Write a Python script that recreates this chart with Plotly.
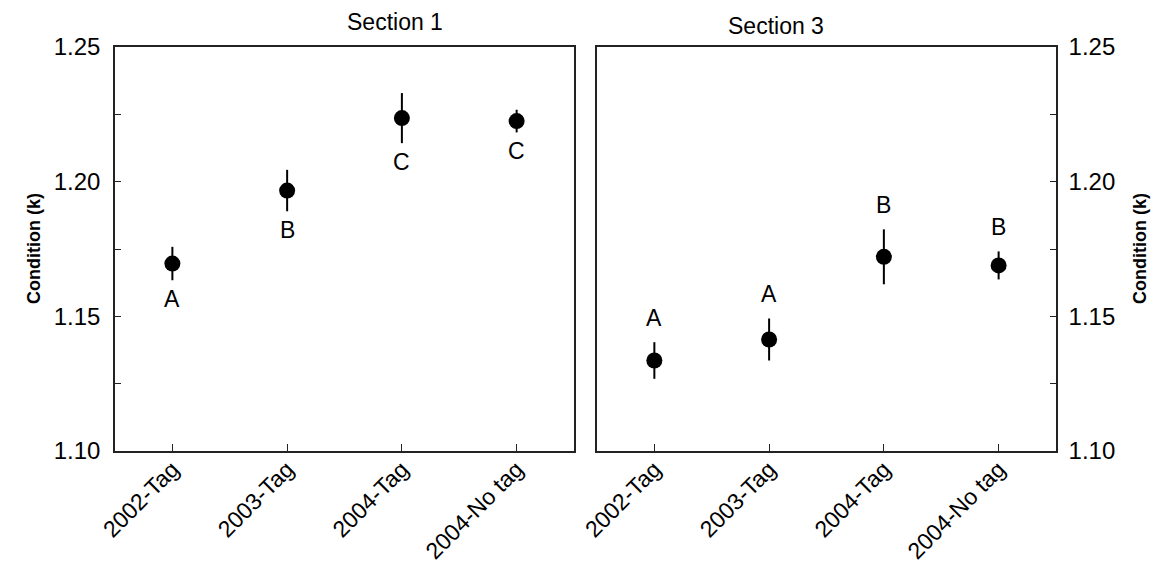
import plotly.graph_objects as go

categories = ["2002-Tag", "2003-Tag", "2004-Tag", "2004-No tag"]
sec1_mean = [1.1696, 1.1967, 1.2236, 1.2225]
sec1_err = [0.0062, 0.0077, 0.0093, 0.0042]
sec1_letters = ["A", "B", "C", "C"]
sec3_mean = [1.1336, 1.1414, 1.1721, 1.1689]
sec3_err = [0.0068, 0.0078, 0.0102, 0.0052]
sec3_letters = ["A", "A", "B", "B"]
y_ticks = [1.10, 1.15, 1.20, 1.25]
y_ticklabels = ["1.10", "1.15", "1.20", "1.25"]

FONT = "Liberation Sans, Arial, sans-serif"
LINE = "#222222"
W, H = 1164, 562
ml, mr, mt, mb = 115, 108, 47, 111
pw = W - ml - mr

fig = go.Figure()
marker = dict(color="black", size=16)
eb = lambda e: dict(type="data", array=e, visible=True, color="black", thickness=2, width=0)

fig.add_trace(go.Scatter(x=categories, y=sec1_mean, mode="markers", marker=marker,
                         error_y=eb(sec1_err), xaxis="x", yaxis="y", showlegend=False))
fig.add_trace(go.Scatter(x=categories, y=sec3_mean, mode="markers", marker=marker,
                         error_y=eb(sec3_err), xaxis="x2", yaxis="y2", showlegend=False))

ann = []
for c, m, e, l in zip(categories, sec1_mean, sec1_err, sec1_letters):
    ann.append(dict(x=c, y=m - e, xref="x", yref="y", text=l, showarrow=False,
                    yanchor="middle", yshift=-19, font=dict(size=23, color="black", family=FONT)))
for c, m, e, l in zip(categories, sec3_mean, sec3_err, sec3_letters):
    ann.append(dict(x=c, y=m + e, xref="x2", yref="y2", text=l, showarrow=False,
                    yanchor="middle", yshift=24, font=dict(size=23, color="black", family=FONT)))

ann.append(dict(x=0.2439, y=1, xref="paper", yref="paper", yanchor="bottom", yshift=10,
                text="Section 1", showarrow=False, font=dict(size=23, color="black", family=FONT)))
ann.append(dict(x=0.7561, y=1, xref="paper", yref="paper", yanchor="bottom", yshift=6,
                text="Section 3", showarrow=False, font=dict(size=23, color="black", family=FONT)))
ann.append(dict(x=(22 - ml) / pw, y=0.5, xref="paper", yref="paper", text="<b>Condition (k)</b>",
                textangle=-90, showarrow=False, font=dict(size=18, color="black", family=FONT)))
ann.append(dict(x=(1152 - ml) / pw, y=0.5, xref="paper", yref="paper", text="<b>Condition (k)</b>",
                textangle=-90, showarrow=False, font=dict(size=18, color="black", family=FONT)))

xax = dict(type="category", range=[-0.5, 3.5], showline=True, linecolor=LINE, linewidth=1.5,
           mirror=True, ticks="inside", ticklen=7, tickwidth=1.2, tickcolor=LINE,
           tickangle=-45, tickfont=dict(size=23, color="black", family=FONT),
           ticklabelstandoff=-6,
           showgrid=False, zeroline=False, automargin=False)
yax = dict(range=[1.10, 1.25], tickvals=y_ticks, ticktext=y_ticklabels, showline=True,
           linecolor=LINE, linewidth=1.5, mirror=True, ticks="inside", ticklen=6, tickwidth=1.2,
           tickcolor=LINE, tickfont=dict(size=24, color="black", family=FONT),
           minor=dict(dtick=0.025, tick0=1.10, ticks="inside", ticklen=6, tickwidth=1.2, tickcolor=LINE),
           showgrid=False, zeroline=False, automargin=False)

fig.update_layout(
    width=W, height=H, margin=dict(l=ml, r=mr, t=mt, b=mb, autoexpand=False),
    paper_bgcolor="white", plot_bgcolor="white",
    xaxis=dict(xax, domain=[0, 0.4878], anchor="y"),
    xaxis2=dict(xax, domain=[0.5122, 1], anchor="y2"),
    yaxis=dict(yax, anchor="x", side="left", ticklabelstandoff=8),
    yaxis2=dict(yax, anchor="x2", side="right", ticklabelstandoff=6),
    font=dict(family=FONT, color="black"),
    annotations=ann,
)

fig.write_html("out.html", config={"displayModeBar": False},
               post_script="document.body.style.margin='0';document.body.style.overflow='hidden';")
